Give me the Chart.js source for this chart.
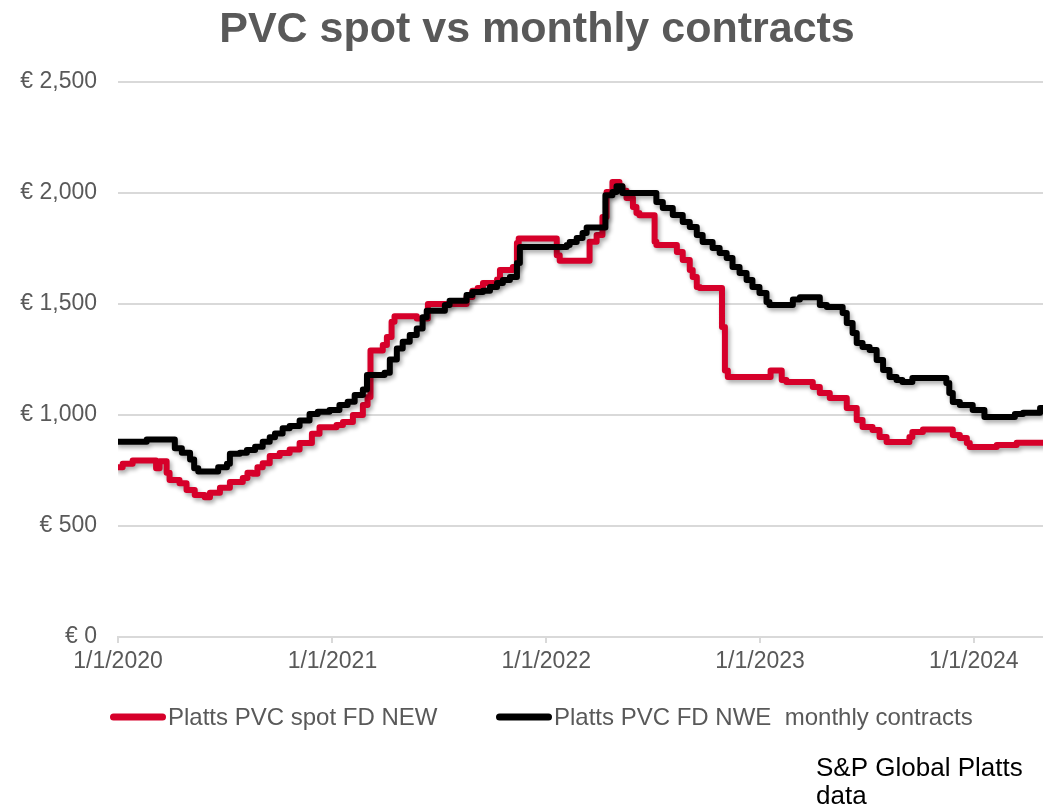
<!DOCTYPE html>
<html>
<head>
<meta charset="utf-8">
<script src="https://cdn.jsdelivr.net/npm/chart.js@4.4.0/dist/chart.umd.min.js"></script>
<style>
html,body{margin:0;padding:0;background:#ffffff;}
#wrap{width:1043px;height:807px;position:relative;}
canvas{display:block;}
</style>
</head>
<body>
<div id="wrap"><canvas id="c" width="1043" height="807"></canvas></div>
<script>
// ---------------- data ----------------
const titleText = 'PVC spot vs monthly contracts';
const seriesNames = ['Platts PVC spot FD NEW', 'Platts PVC FD NWE  monthly contracts'];
const seriesColors = ['#D6002A', '#000000'];
const sourceLines = ['S&P Global Platts', 'data'];

const xStartDate = '2020-01-01';
const xEndDate = '2024-04-28';
const xTickDates = ['2020-01-01', '2021-01-01', '2022-01-01', '2023-01-01', '2024-01-01'];
const xTickLabels = ['1/1/2020', '1/1/2021', '1/1/2022', '1/1/2023', '1/1/2024'];
const yTickValues = [0, 500, 1000, 1500, 2000, 2500];

// Platts PVC spot FD NEW (date where the price changes, new price in EUR/t)
const spotDates = [
  '2020-01-01','2020-01-09','2020-01-26','2020-03-06','2020-03-12','2020-03-24','2020-03-29',
  '2020-04-15','2020-04-27','2020-05-11','2020-05-28','2020-06-06','2020-06-23','2020-07-10',
  '2020-08-01','2020-08-09','2020-08-18','2020-08-26','2020-09-04','2020-09-16','2020-10-03',
  '2020-10-20','2020-11-06','2020-11-27','2020-12-10','2021-01-08','2021-01-19','2021-02-05',
  '2021-02-22','2021-03-02','2021-03-07','2021-03-28','2021-04-04','2021-04-12','2021-04-17',
  '2021-05-25','2021-06-13','2021-08-18','2021-08-28','2021-09-06','2021-09-15','2021-10-09',
  '2021-10-14','2021-11-05','2021-11-12','2021-11-15','2022-01-19','2022-01-24','2022-03-16',
  '2022-03-28','2022-04-07','2022-04-14','2022-04-24','2022-05-06','2022-05-11','2022-05-18',
  '2022-05-29','2022-06-04','2022-06-09','2022-07-05','2022-07-08','2022-08-12','2022-08-22',
  '2022-09-03','2022-09-08','2022-09-15','2022-09-20','2022-10-28','2022-11-02','2022-11-07',
  '2023-01-19','2023-02-07','2023-02-15','2023-04-01','2023-04-13','2023-04-30','2023-05-29',
  '2023-06-15','2023-06-25','2023-07-12','2023-07-24','2023-08-05','2023-09-13','2023-09-18',
  '2023-10-06','2023-11-26','2023-12-08','2023-12-20','2023-12-25','2024-02-09','2024-03-14',
  '2024-04-28'
];
const spotValues = [
  765,780,795,760,792,740,707,
  693,662,640,630,650,672,698,
  716,740,735,765,783,815,829,
  845,874,915,945,955,968,1000,
  1045,1081,1290,1315,1351,1420,1445,
  1435,1500,1532,1560,1572,1595,1610,
  1653,1667,1775,1795,1720,1695,1780,
  1811,1892,2005,2050,2030,2010,1977,
  1937,1910,1900,1780,1766,1734,1698,
  1653,1622,1577,1572,1396,1200,1171,
  1200,1158,1149,1126,1099,1077,1032,
  977,946,932,901,878,901,923,
  935,910,896,874,856,865,875,
  875
];

// Platts PVC FD NWE monthly contracts
const contractDates = [
  '2020-01-01','2020-02-19','2020-04-07','2020-04-19','2020-05-03','2020-05-10','2020-05-17',
  '2020-06-20','2020-07-05','2020-07-10','2020-07-27','2020-08-08','2020-08-22','2020-09-04',
  '2020-09-16','2020-09-25','2020-10-08','2020-10-20','2020-11-06','2020-11-23','2020-12-07',
  '2020-12-27','2021-01-13','2021-01-27','2021-02-08','2021-02-22','2021-03-01','2021-03-31',
  '2021-04-09','2021-04-21','2021-05-01','2021-05-13','2021-05-25','2021-06-04','2021-06-11',
  '2021-07-12','2021-07-20','2021-08-18','2021-08-28','2021-09-15','2021-09-27','2021-10-09',
  '2021-10-19','2021-10-31','2021-11-12','2021-11-17','2022-02-05','2022-02-10','2022-02-22',
  '2022-03-04','2022-03-11','2022-04-12','2022-04-24','2022-05-01','2022-05-11','2022-07-08',
  '2022-07-19','2022-08-05','2022-08-22','2022-09-03','2022-09-15','2022-09-25','2022-10-12',
  '2022-10-24','2022-11-05','2022-11-15','2022-11-27','2022-12-09','2022-12-19','2022-12-31',
  '2023-01-12','2023-01-17','2023-02-26','2023-03-10','2023-04-13','2023-04-25','2023-05-22',
  '2023-05-29','2023-06-08','2023-06-15','2023-06-25','2023-07-07','2023-07-19','2023-07-30',
  '2023-08-10','2023-08-22','2023-09-01','2023-09-18','2023-11-15','2023-11-20','2023-11-26',
  '2023-12-08','2023-12-30','2024-01-19','2024-03-11','2024-03-25','2024-04-23','2024-04-28'
];
const contractValues = [
  880,890,850,830,800,760,745,
  765,780,825,830,842,857,880,
  900,917,940,950,975,1005,1015,
  1022,1045,1060,1090,1115,1180,1190,
  1250,1300,1330,1360,1390,1440,1470,
  1495,1515,1541,1554,1560,1577,1595,
  1608,1622,1685,1757,1766,1779,1797,
  1820,1845,1990,2005,2030,2000,1960,
  1932,1901,1869,1847,1811,1779,1752,
  1730,1707,1667,1640,1608,1577,1550,
  1509,1495,1520,1530,1495,1486,1459,
  1414,1369,1324,1306,1293,1248,1203,
  1171,1158,1149,1167,1144,1099,1059,
  1045,1022,991,1005,1010,1031,1031
];

// ---------------- helpers ----------------
function dayOffset(s) {
  const p = s.split('-').map(Number);
  const b = xStartDate.split('-').map(Number);
  return (Date.UTC(p[0], p[1] - 1, p[2]) - Date.UTC(b[0], b[1] - 1, b[2])) / 86400000;
}
function toPoints(dates, values) {
  return dates.map((d, i) => ({ x: dayOffset(d), y: values[i] }));
}
const xTickDays = xTickDates.map(dayOffset);
const FONT = '"Liberation Sans", Arial, Helvetica, sans-serif';

// ---------------- plugins ----------------
const shadowPlugin = {
  id: 'lineShadow',
  beforeDatasetsDraw(chart) {
    const c = chart.ctx;
    c.save();
    c.shadowColor = 'rgba(0,0,0,0.33)';
    c.shadowBlur = 4;
    c.shadowOffsetX = 2;
    c.shadowOffsetY = 3;
  },
  afterDatasetsDraw(chart) { chart.ctx.restore(); }
};

const decorPlugin = {
  id: 'decor',
  afterDraw(chart) {
    const c = chart.ctx;
    c.save();
    // title
    c.font = 'bold 43px ' + FONT;
    c.fillStyle = '#595959';
    c.textAlign = 'center';
    c.textBaseline = 'alphabetic';
    c.fillText(titleText, 537, 42);
    // legend
    const swatchX = [110, 496];
    const ly = 717;
    chart.data.datasets.forEach((ds, i) => {
      const x0 = swatchX[i];
      c.strokeStyle = ds.borderColor;
      c.lineWidth = 7;
      c.lineCap = 'round';
      c.beginPath();
      c.moveTo(x0 + 3.5, ly);
      c.lineTo(x0 + 52.5, ly);
      c.stroke();
      c.font = '24px ' + FONT;
      c.fillStyle = '#595959';
      c.textAlign = 'left';
      c.textBaseline = 'middle';
      c.fillText(ds.label, x0 + 58, ly + 1);
    });
    // source
    c.font = '26px ' + FONT;
    c.fillStyle = '#000000';
    c.textAlign = 'left';
    c.textBaseline = 'alphabetic';
    c.fillText(sourceLines[0], 816, 776);
    c.fillText(sourceLines[1], 816, 804);
    c.restore();
  }
};

// ---------------- chart ----------------
new Chart(document.getElementById('c'), {
  type: 'line',
  data: {
    datasets: [
      {
        label: seriesNames[0],
        data: toPoints(spotDates, spotValues),
        borderColor: seriesColors[0],
        backgroundColor: seriesColors[0],
        borderWidth: 6,
        pointRadius: 0,
        stepped: true,
        fill: false,
        borderJoinStyle: 'round',
        borderCapStyle: 'round',
        order: 1
      },
      {
        label: seriesNames[1],
        data: toPoints(contractDates, contractValues),
        borderColor: seriesColors[1],
        backgroundColor: seriesColors[1],
        borderWidth: 6,
        pointRadius: 0,
        stepped: true,
        fill: false,
        borderJoinStyle: 'round',
        borderCapStyle: 'round',
        order: 0
      }
    ]
  },
  options: {
    responsive: false,
    animation: false,
    devicePixelRatio: 1,
    layout: { padding: { top: 82, left: 0, right: 0, bottom: 130 } },
    plugins: {
      legend: { display: false },
      title: { display: false },
      tooltip: { enabled: false }
    },
    scales: {
      x: {
        type: 'linear',
        min: 0,
        max: dayOffset(xEndDate),
        afterBuildTicks(scale) { scale.ticks = xTickDays.map(v => ({ value: v })); },
        afterFit(scale) { scale.height = 40; },
        ticks: {
          autoSkip: false,
          maxRotation: 0,
          padding: 5,
          color: '#595959',
          font: { family: FONT, size: 23 },
          callback(v) {
            const i = xTickDays.indexOf(v);
            return i >= 0 ? xTickLabels[i] : '';
          }
        },
        grid: { drawOnChartArea: false, drawTicks: true, tickLength: 6, color: '#d9d9d9', lineWidth: 2 },
        border: { display: true, color: '#d9d9d9', width: 2 }
      },
      y: {
        min: yTickValues[0],
        max: yTickValues[yTickValues.length - 1],
        afterBuildTicks(scale) { scale.ticks = yTickValues.map(v => ({ value: v })); },
        afterFit(scale) { scale.width = 118; },
        ticks: {
          padding: 21,
          color: '#595959',
          font: { family: FONT, size: 23 },
          callback(v) { return '€ ' + Number(v).toLocaleString('en-US'); }
        },
        grid: { color: '#d9d9d9', lineWidth: 2, drawTicks: false },
        border: { display: false }
      }
    }
  },
  plugins: [shadowPlugin, decorPlugin]
});
</script>
</body>
</html>
